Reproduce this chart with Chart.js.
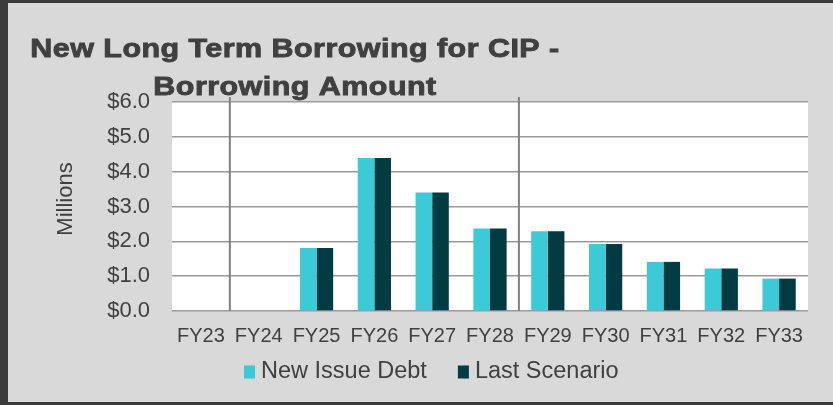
<!DOCTYPE html>
<html lang="en">
<head>
    <meta charset="UTF-8">
    <title>New Long Term Borrowing for CIP</title>
    <script src="https://cdn.jsdelivr.net/npm/chart.js"></script>
    <style>
        html, body { margin: 0; padding: 0; background: #3b3b3b; }
        #wrap { width: 833px; height: 405px; }
    </style>
</head>
<body>
    <div id="wrap"><canvas id="borrowing-chart" width="833" height="405"></canvas></div>

    <script>
        // Chart data (millions)
        const years = ['FY23', 'FY24', 'FY25', 'FY26', 'FY27', 'FY28', 'FY29', 'FY30', 'FY31', 'FY32', 'FY33'];
        const newIssueDebt = [0, 0, 1.81, 4.39, 3.40, 2.37, 2.29, 1.92, 1.41, 1.22, 0.93];
        const lastScenario = [0, 0, 1.81, 4.39, 3.40, 2.37, 2.29, 1.92, 1.41, 1.22, 0.93];
        const seriesNames = ['New Issue Debt', 'Last Scenario'];
        const titleLines = ['New Long Term Borrowing for CIP -', 'Borrowing Amount'];
        const axisTitle = 'Millions';
        // separators drawn after these category indexes
        const dividers = [0, 5];

        const textColor = '#404040';

        // Background, title, axis title, dividers and legend
        const decorPlugin = {
            id: 'decor',
            beforeDraw(chart) {
                const ctx = chart.ctx;
                ctx.save();
                ctx.fillStyle = '#3b3b3b';
                ctx.fillRect(0, 0, chart.width, chart.height);
                ctx.fillStyle = '#d9d9d9';
                ctx.fillRect(8, 3, chart.width - 8, chart.height - 6);
                ctx.fillStyle = '#ffffff';
                const a = chart.chartArea;
                ctx.fillRect(a.left, a.top, a.right - a.left, a.bottom - a.top);
                ctx.restore();
            },
            afterDraw(chart) {
                const ctx = chart.ctx;
                const a = chart.chartArea;
                const x = chart.scales.x;
                ctx.save();

                // vertical separators
                ctx.strokeStyle = '#808080';
                ctx.lineWidth = 2;
                dividers.forEach(i => {
                    const px = (x.getPixelForValue(i) + x.getPixelForValue(i + 1)) / 2;
                    ctx.beginPath();
                    ctx.moveTo(px, a.top - 5);
                    ctx.lineTo(px, a.bottom);
                    ctx.stroke();
                });

                // title (wide, heavy lettering)
                ctx.fillStyle = textColor;
                ctx.strokeStyle = textColor;
                ctx.lineWidth = 0.9;
                ctx.font = 'bold 26.5px "Liberation Sans", Arial, sans-serif';
                ctx.letterSpacing = '0.4px';
                ctx.textAlign = 'center';
                ctx.textBaseline = 'alphabetic';
                [[titleLines[0], 57], [titleLines[1], 95]].forEach(([t, y]) => {
                    ctx.save();
                    ctx.translate(295, y);
                    ctx.scale(1.15, 1);
                    ctx.fillText(t, 0, 0);
                    ctx.strokeText(t, 0, 0);
                    ctx.restore();
                });
                ctx.letterSpacing = '0px';

                // y axis title
                ctx.font = '22px "Liberation Sans", Arial, sans-serif';
                ctx.translate(66, 199);
                ctx.rotate(-Math.PI / 2);
                ctx.textBaseline = 'middle';
                ctx.fillText(axisTitle, 0, 0);
                ctx.setTransform(1, 0, 0, 1, 0, 0);

                // legend
                ctx.font = '23.5px "Liberation Sans", Arial, sans-serif';
                ctx.textAlign = 'left';
                ctx.textBaseline = 'middle';
                let lx = 244;
                const ly = 372;
                chart.data.datasets.forEach(ds => {
                    ctx.fillStyle = ds.backgroundColor;
                    ctx.fillRect(lx, ly - 6.5, 11, 13);
                    ctx.fillStyle = textColor;
                    ctx.fillText(ds.label, lx + 17, ly);
                    lx += 17 + ctx.measureText(ds.label).width + 31;
                });
                ctx.restore();
            }
        };

        const ctx = document.getElementById('borrowing-chart').getContext('2d');
        new Chart(ctx, {
            type: 'bar',
            data: {
                labels: years,
                datasets: [
                    { label: seriesNames[0], data: newIssueDebt, backgroundColor: '#3ccbd6' },
                    { label: seriesNames[1], data: lastScenario, backgroundColor: '#033b42' }
                ]
            },
            options: {
                responsive: false,
                animation: false,
                layout: { padding: { top: 102, right: 25, left: 0, bottom: 0 } },
                datasets: {
                    bar: { categoryPercentage: 0.575, barPercentage: 1 }
                },
                plugins: {
                    legend: { display: false },
                    title: { display: false },
                    tooltip: { enabled: false }
                },
                scales: {
                    x: {
                        grid: { display: false },
                        border: { display: false },
                        ticks: {
                            color: textColor,
                            padding: 5,
                            font: { family: '"Liberation Sans", Arial, sans-serif', size: 20 }
                        },
                        afterFit(scale) { scale.height = 94; }
                    },
                    y: {
                        min: 0,
                        max: 6,
                        grid: { color: '#9a9a9a', lineWidth: 1.5, drawTicks: false },
                        border: { display: false },
                        ticks: {
                            stepSize: 1,
                            color: textColor,
                            padding: 22,
                            font: { family: '"Liberation Sans", Arial, sans-serif', size: 22 },
                            callback: v => '$' + Number(v).toFixed(1)
                        },
                        afterFit(scale) { scale.width = 172; }
                    }
                }
            },
            plugins: [decorPlugin]
        });
    </script>
</body>
</html>
